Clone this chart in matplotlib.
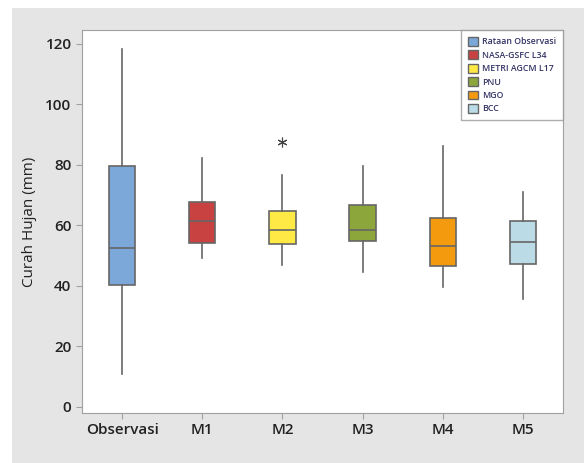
import matplotlib
matplotlib.use('Agg')
import matplotlib.pyplot as plt
from matplotlib.patches import Patch, Rectangle

plt.rcParams['font.family'] = ['Open Sans', 'DejaVu Sans']

# data
labels = ['Observasi', 'M1', 'M2', 'M3', 'M4', 'M5']
legend_names = ['Rataan Observasi', 'NASA-GSFC L34', 'METRI AGCM L17',
                'PNU', 'MGO', 'BCC']
whisker_low = [11.0, 49.3, 46.8, 44.6, 39.6, 35.8]
q1 = [40.2, 54.3, 53.9, 54.8, 46.5, 47.1]
median = [52.6, 61.6, 58.6, 58.6, 53.1, 54.5]
q3 = [79.7, 67.7, 64.7, 66.9, 62.3, 61.6]
whisker_high = [118.3, 82.3, 76.8, 79.8, 86.1, 71.0]
outliers = [[], [], [87.5], [], [], []]
colors = ['#7BA7D9', '#C94242', '#FFE945', '#8CA63B', '#F39A0E', '#BBDCE6']

stats = []
for i in range(len(labels)):
    stats.append({'whislo': whisker_low[i], 'q1': q1[i], 'med': median[i],
                  'q3': q3[i], 'whishi': whisker_high[i],
                  'fliers': outliers[i], 'label': labels[i]})

fig = plt.figure(figsize=(5.84, 4.63), dpi=100)
fig.patch.set_facecolor('white')
# grey panel behind the plot
fig.patches.append(Rectangle((12 / 584, 0), 1, 1 - 8 / 463,
                             transform=fig.transFigure, facecolor='#E5E5E5',
                             edgecolor='none', zorder=-1))

ax = fig.add_axes([82 / 584, 1 - 413 / 463, 481 / 584, 383 / 463])
edge = '#666666'
bp = ax.bxp(stats, positions=range(1, 7), widths=0.33, patch_artist=True,
            showcaps=False,
            boxprops=dict(edgecolor=edge, linewidth=1.2),
            medianprops=dict(color=edge, linewidth=1.2),
            whiskerprops=dict(color=edge, linewidth=1.2),
            flierprops=dict(marker=(6, 2, 0), markersize=7,
                            markeredgecolor='#444444', markeredgewidth=0.8))
for patch, c in zip(bp['boxes'], colors):
    patch.set_facecolor(c)

ax.set_xlim(0.5, 6.5)
ax.set_ylim(-2, 124.6)
ax.set_yticks([0, 20, 40, 60, 80, 100, 120])
for s in ax.spines.values():
    s.set_color('#A0A0A0')
ax.tick_params(colors='#A0A0A0', labelcolor='#222222', length=4,
               labelsize=11)
for t in ax.get_xticklabels() + ax.get_yticklabels():
    t.set_fontweight('semibold')
ax.set_ylabel('Curah Hujan (mm)', fontsize=11, color='#222222', labelpad=6)

handles = [Patch(facecolor=c, edgecolor=edge, linewidth=1.0) for c in colors]
leg = ax.legend(handles, legend_names, loc='upper right', fontsize=6.3,
                borderaxespad=0, fancybox=False, handlelength=1.1,
                handleheight=1.2, labelspacing=0.45, borderpad=0.8,
                handletextpad=0.5)
leg.get_frame().set_edgecolor('#999999')
leg.get_frame().set_linewidth(1.0)
for t in leg.get_texts():
    t.set_color('#333366')
    t.set_fontweight('semibold')

fig.savefig('out.png', dpi=100)
